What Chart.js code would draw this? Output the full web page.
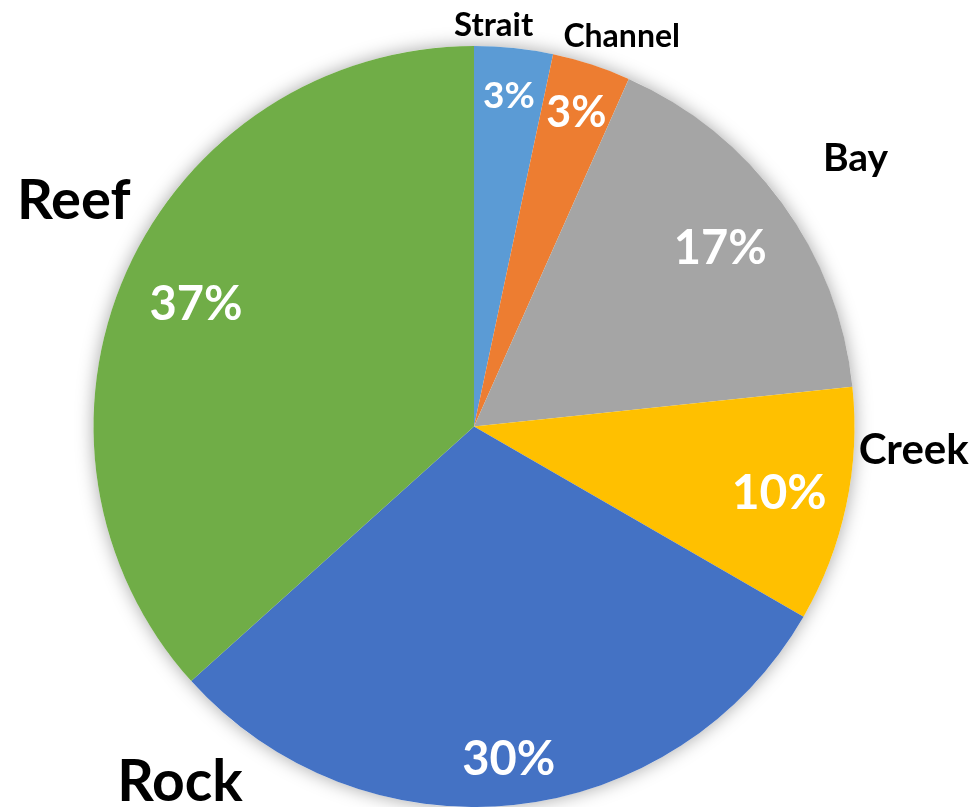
<!DOCTYPE html>
<html>
<head>
<meta charset="utf-8">
<script src="https://cdn.jsdelivr.net/npm/chart.js@4"></script>
<style>
  html,body{margin:0;padding:0;background:#fff}
  #wrap{width:974px;height:807px;position:relative}
</style>
</head>
<body>
<div id="wrap"><canvas id="pie"></canvas></div>
<script>
// ── data ──
const categories = ['Strait', 'Channel', 'Bay', 'Creek', 'Rock', 'Reef'];
const counts     = [1, 1, 5, 3, 9, 11];
const colors     = ['#5B9BD5', '#ED7D31', '#A5A5A5', '#FFC000', '#4472C4', '#70AD47'];

// ── label layout (angle offset from slice middle in deg, radius as share of pie radius, font px) ──
const pctRadius  = [0.877, 0.87, 0.80, 0.82, 0.875, 0.80];
const pctSize    = [37, 43, 47, 48, 47, 47];
const catAngle   = [-3.2, 2.7, 0.8, -9.1, 45.7, 5.6];
const catRadius  = [1.058, 1.098, 1.227, 1.157, 1.21, 1.21];
const catSize    = [33, 32, 39, 42, 57, 56];

const FONT = 'Lato, "Open Sans", sans-serif';
const CAP = 0.72;

// soft shadow round the whole pie
const pieShadow = {
  id: 'pieShadow',
  beforeDatasetsDraw(chart){
    const arc = chart.getDatasetMeta(0).data[0];
    if(!arc) return;
    const ctx = chart.ctx;
    ctx.save();
    ctx.shadowColor = 'rgba(0,0,0,0.35)';
    ctx.shadowBlur = 18;
    ctx.fillStyle = '#fff';
    ctx.beginPath();
    ctx.arc(arc.x, arc.y, arc.outerRadius, 0, Math.PI*2);
    ctx.fill();
    ctx.restore();
  }
};

const pieLabels = {
  id: 'pieLabels',
  afterDatasetsDraw(chart){
    const ctx = chart.ctx;
    const total = counts.reduce((s,v)=>s+v,0);
    chart.getDatasetMeta(0).data.forEach((arc,i)=>{
      const mid = (arc.startAngle + arc.endAngle)/2;
      const R = arc.outerRadius;
      ctx.save();
      ctx.textAlign = 'center';
      ctx.textBaseline = 'alphabetic';

      // percentage inside
      let s = pctSize[i];
      ctx.font = `bold ${s}px ${FONT}`;
      ctx.fillStyle = '#fff';
      let x = arc.x + Math.cos(mid)*R*pctRadius[i];
      let y = arc.y + Math.sin(mid)*R*pctRadius[i];
      ctx.fillText(Math.round(counts[i]/total*100)+'%', x, y + s*CAP/2);

      // category name outside
      const a = mid + catAngle[i]*Math.PI/180;
      s = catSize[i];
      ctx.font = `bold ${s}px ${FONT}`;
      ctx.fillStyle = '#000';
      x = arc.x + Math.cos(a)*R*catRadius[i];
      y = arc.y + Math.sin(a)*R*catRadius[i];
      ctx.fillText(categories[i], x, y + s*CAP/2);
      ctx.restore();
    });
  }
};

new Chart(document.getElementById('pie'), {
  type: 'pie',
  data: {
    labels: categories,
    datasets: [{
      data: counts,
      backgroundColor: colors,
      borderWidth: 0
    }]
  },
  options: {
    responsive: true,
    maintainAspectRatio: false,
    animation: false,
    layout: { padding: { left: 93, right: 119, top: 46, bottom: 0 } },
    plugins: { legend: { display: false }, tooltip: { enabled: false } }
  },
  plugins: [pieShadow, pieLabels]
});
</script>
</body>
</html>
